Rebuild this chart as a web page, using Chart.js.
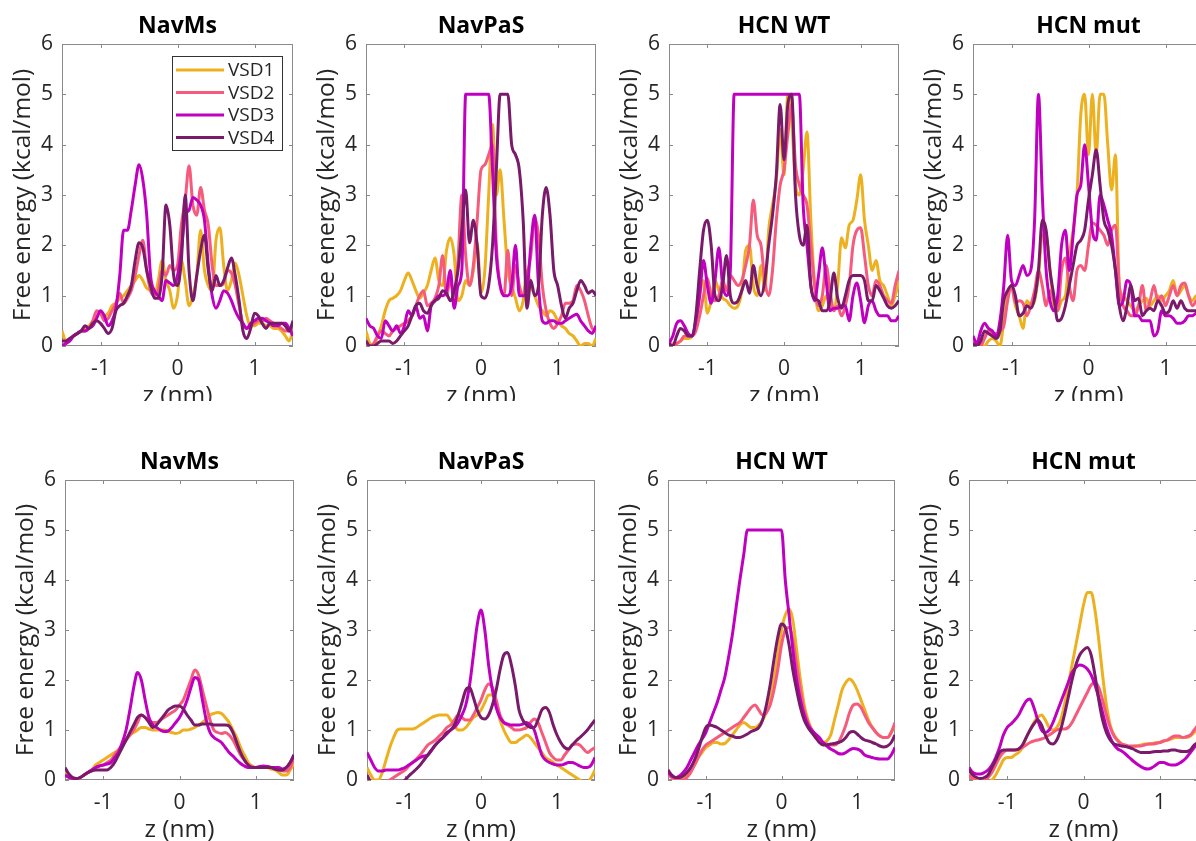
<!DOCTYPE html>
<html>
<head>
<meta charset="utf-8">
<script src="https://cdn.jsdelivr.net/npm/chart.js@4.4.1/dist/chart.umd.min.js"></script>
<style>
  body { margin: 0; background: #fff; width: 1196px; height: 841px; overflow: hidden; position: relative; }
  .panel { position: absolute; overflow: hidden; }
</style>
</head>
<body>
<script>
// z positions shared by every profile (nm)
const z = [-1.5,-1.45,-1.4,-1.35,-1.3,-1.25,-1.2,-1.15,-1.1,-1.05,
  -1,-0.95,-0.9,-0.85,-0.8,-0.75,-0.7,-0.65,-0.6,-0.55,
  -0.5,-0.45,-0.4,-0.35,-0.3,-0.25,-0.2,-0.15,-0.1,-0.05,
  0,0.05,0.1,0.15,0.2,0.25,0.3,0.35,0.4,0.45,
  0.5,0.55,0.6,0.65,0.7,0.75,0.8,0.85,0.9,0.95,
  1,1.05,1.1,1.15,1.2,1.25,1.3,1.35,1.4,1.45,1.5];

const vsdNames = ["VSD1", "VSD2", "VSD3", "VSD4"];
const vsdColors = ["#EDB120", "#F65A7C", "#C000C0", "#7A1A6A"];
const panelTitles = ["NavMs", "NavPaS", "HCN WT", "HCN mut"];
const xTickValues = [-1, 0, 1];
const yTickValues = [0, 1, 2, 3, 4, 5, 6];

// ---- top row: free energy profiles (kcal/mol) ----
const navMsTop1 = [0.30,0.10,0.15,0.20,0.25,0.30,0.35,0.40,0.50,0.60,
  0.65,0.60,0.65,0.80,0.85,0.95,1.00,1.10,1.20,1.30,
  1.40,1.30,1.15,1.10,1.00,1.30,1.70,1.30,1.10,0.75,
  1.00,1.70,1.30,0.80,1.00,1.40,2.30,1.50,1.20,1.10,
  2.10,2.35,1.60,1.10,1.30,1.65,1.40,1.00,0.60,0.40,
  0.40,0.45,0.45,0.40,0.40,0.35,0.35,0.30,0.20,0.10,0.30];
const navMsTop2 = [0.00,0.05,0.10,0.20,0.25,0.30,0.30,0.35,0.50,0.70,
  0.65,0.50,0.55,0.70,0.85,1.05,0.85,0.95,1.10,1.40,
  1.80,2.10,1.50,1.10,1.00,1.10,1.50,1.40,1.60,1.50,
  1.60,2.40,2.90,3.58,2.80,2.60,3.15,2.70,2.40,1.60,
  1.20,1.20,1.25,1.50,1.45,1.20,0.80,0.45,0.35,0.40,
  0.45,0.50,0.50,0.55,0.50,0.45,0.40,0.35,0.30,0.30,0.30];
const navMsTop3 = [0.00,0.05,0.10,0.20,0.25,0.30,0.30,0.35,0.40,0.55,
  0.70,0.60,0.40,0.50,0.75,1.40,2.30,2.30,2.70,3.20,
  3.60,3.30,2.60,1.40,1.10,1.00,0.90,1.30,1.25,1.20,
  1.40,1.90,2.60,2.70,2.95,2.90,2.80,2.50,1.60,1.00,
  0.75,0.90,1.10,1.05,0.90,0.70,0.55,0.45,0.35,0.45,
  0.50,0.55,0.55,0.50,0.45,0.40,0.40,0.45,0.45,0.35,0.20];
const navMsTop4 = [0.10,0.10,0.15,0.20,0.25,0.30,0.40,0.35,0.45,0.50,
  0.45,0.35,0.25,0.35,0.70,0.80,0.85,1.00,1.20,1.70,
  2.05,1.95,1.50,1.20,0.95,0.95,1.40,2.80,2.40,1.40,
  1.20,1.70,3.00,1.50,0.90,1.40,1.90,2.20,1.50,1.10,
  1.40,1.20,1.30,1.55,1.75,1.40,0.90,0.30,0.15,0.35,
  0.65,0.60,0.45,0.35,0.45,0.45,0.45,0.45,0.40,0.30,0.50];

const navPaSTop1 = [0.30,0.05,0.00,0.20,0.40,0.70,0.90,0.95,1.00,1.10,
  1.30,1.45,1.30,1.10,0.95,1.05,1.20,1.50,1.75,1.30,
  1.20,1.90,2.15,1.80,0.90,1.00,1.30,1.20,1.50,2.05,
  1.05,1.50,3.00,4.40,3.00,3.50,2.50,1.50,1.20,0.95,
  0.70,0.90,1.50,1.20,1.00,0.80,0.70,0.60,0.70,0.65,
  0.50,0.40,0.35,0.25,0.20,0.10,0.00,0.05,0.05,0.00,0.15];
const navPaSTop2 = [0.00,0.00,0.05,0.20,0.30,0.25,0.20,0.30,0.35,0.40,
  0.45,0.50,0.60,0.80,1.00,1.10,0.80,0.85,0.95,1.20,
  1.80,1.00,1.30,1.00,1.70,3.00,1.80,1.20,1.60,2.50,
  3.50,3.60,3.80,4.00,2.00,1.20,1.00,1.90,1.00,1.60,
  1.20,1.00,1.40,1.80,2.55,2.20,1.20,0.70,0.45,0.35,
  0.45,0.60,0.85,0.85,0.90,1.20,1.10,0.90,0.60,0.35,0.30];
const navPaSTop3 = [0.55,0.40,0.35,0.20,0.15,0.50,0.40,0.30,0.40,0.25,
  0.40,0.70,0.60,0.80,0.55,0.60,0.30,0.80,0.90,1.00,
  1.00,1.10,1.50,0.75,1.20,1.50,5.00,5.00,5.00,5.00,
  5.00,5.00,5.00,3.50,1.80,1.20,1.00,1.00,1.20,2.00,
  1.00,1.00,1.10,2.00,2.60,1.20,0.50,0.45,0.50,0.50,
  0.45,0.45,0.50,0.55,0.60,0.63,0.50,0.40,0.30,0.25,0.40];
const navPaSTop4 = [0.10,0.00,0.00,0.05,0.10,0.10,0.10,0.05,0.10,0.20,
  0.30,0.40,0.60,0.80,0.85,0.70,0.65,0.80,0.90,0.95,
  1.10,1.05,0.90,1.10,1.50,2.30,3.10,2.05,2.50,2.00,
  1.00,0.95,1.20,2.00,3.50,5.00,5.00,5.00,4.00,3.80,
  3.50,2.50,0.75,1.30,1.00,1.20,2.60,3.15,2.60,1.50,
  1.20,0.80,0.55,0.75,0.85,1.10,1.30,1.20,1.05,1.10,1.00];

const hcnWtTop1 = [0.00,0.05,0.05,0.10,0.15,0.15,0.20,0.40,1.00,1.30,
  0.65,0.90,1.30,1.10,0.95,0.90,0.80,0.75,0.80,1.10,
  1.90,2.00,1.20,1.00,1.60,1.10,2.30,2.80,3.30,4.30,
  3.40,5.00,4.50,3.20,3.00,3.50,4.25,2.50,1.20,0.70,
  0.80,1.00,0.80,0.75,1.20,2.15,1.95,2.40,2.50,2.90,
  3.40,2.50,2.00,1.50,1.70,1.30,1.20,1.00,0.80,1.00,1.30];
const hcnWtTop2 = [0.05,0.00,0.05,0.10,0.20,0.20,0.20,0.30,0.60,1.00,
  1.35,1.00,0.90,1.00,1.30,1.10,1.40,1.30,1.20,1.30,
  1.60,2.00,2.90,2.20,2.00,1.30,1.00,1.50,2.50,3.20,
  3.50,4.20,4.80,3.60,3.20,3.00,2.80,2.00,1.20,0.80,
  1.00,1.60,1.10,0.70,0.80,0.60,0.80,1.20,2.00,2.30,
  2.35,1.80,1.20,1.00,1.30,1.20,1.00,0.90,0.85,1.20,1.50];
const hcnWtTop3 = [0.05,0.20,0.45,0.50,0.40,0.25,0.20,0.50,1.00,1.70,
  1.20,0.85,1.30,1.95,1.20,1.00,1.50,5.00,5.00,5.00,
  5.00,5.00,5.00,5.00,5.00,5.00,5.00,5.00,5.00,5.00,
  5.00,5.00,5.00,5.00,5.00,2.80,2.00,1.20,0.90,1.40,
  1.95,1.30,0.70,0.75,0.75,0.80,0.80,0.50,1.00,1.25,
  0.90,0.46,0.80,0.90,0.70,0.60,0.60,0.60,0.50,0.50,0.60];
const hcnWtTop4 = [0.05,0.00,0.20,0.35,0.30,0.20,0.20,0.60,1.50,2.30,
  2.50,2.00,1.00,0.90,1.20,1.80,1.00,0.85,0.90,1.10,
  1.30,1.05,1.60,1.20,1.00,1.30,2.00,2.60,3.40,4.80,
  3.70,4.80,5.00,3.00,2.20,2.00,2.40,1.20,0.95,0.90,
  0.70,0.70,0.90,1.45,0.95,0.75,1.00,1.30,1.40,1.40,
  1.40,1.30,0.90,0.90,1.20,1.10,0.95,0.80,0.75,0.80,0.90];

const hcnMutTop1 = [0.15,0.05,0.00,0.00,0.10,0.15,0.10,0.00,0.50,1.00,
  1.20,0.80,0.60,0.35,0.90,0.80,0.90,1.40,2.20,2.20,
  1.50,0.80,0.70,0.90,1.00,1.80,2.30,3.00,4.60,5.00,
  3.80,5.00,3.80,5.00,5.00,4.00,3.10,3.80,1.20,1.00,
  0.90,0.80,0.70,0.80,0.90,0.95,0.80,0.90,1.00,0.90,
  1.00,1.10,1.30,1.00,1.10,1.20,1.00,0.90,1.00,1.00,1.00];
const hcnMutTop2 = [0.15,0.05,0.00,0.15,0.30,0.25,0.25,0.30,0.40,0.90,
  1.20,0.85,0.90,0.85,0.60,0.80,1.10,1.50,1.20,0.80,
  1.10,0.90,0.70,1.50,1.75,1.20,0.90,1.50,1.60,1.50,
  2.00,2.45,2.40,2.30,2.20,2.00,2.30,2.40,1.20,0.80,
  0.70,0.60,0.60,0.80,1.20,0.70,0.90,1.20,0.90,1.00,
  0.80,1.00,1.20,1.00,1.20,1.25,1.00,0.80,0.90,1.00,1.00];
const hcnMutTop3 = [0.20,0.05,0.30,0.45,0.35,0.30,0.20,0.50,1.20,2.20,
  1.30,1.20,1.40,1.60,1.40,1.50,2.50,5.00,3.00,1.50,
  0.90,0.70,1.00,2.00,2.30,1.50,2.20,3.00,3.20,4.00,
  3.20,2.30,2.10,3.00,2.80,2.50,2.20,1.50,0.80,0.90,
  1.30,1.20,0.60,0.60,0.50,0.50,0.50,0.20,0.30,0.70,
  0.60,0.60,0.55,0.45,0.45,0.50,0.60,0.60,0.65,0.65,0.65];
const hcnMutTop4 = [0.05,0.00,0.10,0.30,0.25,0.20,0.15,0.30,0.90,1.10,
  1.20,1.00,0.60,0.65,0.80,0.75,0.95,1.50,2.50,2.30,
  1.50,1.00,0.50,0.55,0.80,1.20,1.60,2.00,2.10,2.30,
  2.90,3.40,3.90,3.20,2.50,2.30,2.00,1.50,0.80,0.50,
  0.80,1.20,0.90,0.95,0.60,0.70,0.75,0.70,0.90,0.80,
  0.65,0.70,0.90,0.75,0.90,0.75,0.70,0.70,0.70,0.70,0.70];

// ---- bottom row: smoothed profiles (kcal/mol) ----
const navMsBot1 = [0.15,0.08,0.05,0.03,0.05,0.10,0.15,0.20,0.30,0.35,
  0.40,0.45,0.50,0.55,0.60,0.70,0.80,0.90,0.95,1.00,
  1.05,1.05,1.02,1.00,1.00,1.00,1.00,0.97,0.95,0.93,
  0.95,1.00,1.00,1.02,1.05,1.10,1.15,1.22,1.30,1.33,
  1.35,1.33,1.25,1.15,1.00,0.85,0.65,0.50,0.35,0.28,
  0.25,0.25,0.25,0.25,0.22,0.20,0.15,0.10,0.10,0.20,0.35];
const navMsBot2 = [0.10,0.05,0.03,0.03,0.05,0.10,0.15,0.20,0.25,0.28,
  0.30,0.35,0.40,0.50,0.60,0.70,0.80,0.90,1.00,1.15,
  1.30,1.25,1.20,1.15,1.15,1.20,1.25,1.30,1.35,1.40,
  1.50,1.60,1.80,2.00,2.20,2.10,1.80,1.50,1.20,1.00,
  0.95,0.93,0.95,0.90,0.80,0.65,0.50,0.40,0.30,0.27,
  0.25,0.25,0.27,0.27,0.25,0.22,0.20,0.18,0.18,0.25,0.45];
const navMsBot3 = [0.10,0.05,0.03,0.03,0.05,0.10,0.15,0.20,0.25,0.28,
  0.30,0.32,0.35,0.45,0.55,0.75,1.00,1.40,1.85,2.15,
  2.00,1.60,1.25,1.10,1.05,1.00,0.97,0.98,1.05,1.15,
  1.25,1.40,1.60,1.85,2.05,2.00,1.60,1.20,0.95,0.85,
  0.80,0.75,0.65,0.55,0.48,0.40,0.33,0.28,0.25,0.25,
  0.25,0.27,0.28,0.27,0.25,0.25,0.25,0.22,0.25,0.35,0.50];
const navMsBot4 = [0.25,0.12,0.05,0.03,0.05,0.10,0.15,0.18,0.20,0.20,
  0.20,0.20,0.25,0.35,0.50,0.65,0.80,0.95,1.10,1.25,
  1.30,1.25,1.15,1.05,1.10,1.20,1.30,1.40,1.45,1.48,
  1.48,1.42,1.30,1.20,1.10,1.10,1.12,1.12,1.12,1.10,
  1.10,1.10,1.10,1.08,0.95,0.75,0.55,0.40,0.30,0.25,
  0.25,0.25,0.25,0.25,0.25,0.22,0.20,0.20,0.25,0.35,0.50];

const navPaSBot1 = [0.25,0.10,0.00,0.00,0.15,0.40,0.65,0.85,1.00,1.02,
  1.02,1.02,1.02,1.05,1.10,1.15,1.20,1.25,1.28,1.30,
  1.30,1.30,1.20,1.10,1.00,1.00,1.05,1.15,1.25,1.30,
  1.40,1.55,1.70,1.70,1.50,1.20,1.00,0.85,0.75,0.75,
  0.80,0.85,0.90,0.85,0.75,0.65,0.55,0.45,0.40,0.35,
  0.30,0.25,0.20,0.15,0.10,0.05,0.00,-0.05,-0.05,0.05,0.20];
const navPaSBot2 = [-0.30,-0.25,-0.20,-0.15,-0.10,-0.05,0.00,0.05,0.10,0.15,
  0.20,0.28,0.35,0.42,0.50,0.60,0.70,0.75,0.80,0.88,
  0.95,1.05,1.10,1.20,1.30,1.25,1.20,1.20,1.30,1.45,
  1.60,1.80,1.92,1.85,1.60,1.30,1.15,1.10,1.05,1.00,
  1.00,1.02,1.05,1.15,1.22,1.15,0.95,0.75,0.55,0.45,
  0.40,0.40,0.50,0.60,0.70,0.72,0.70,0.62,0.55,0.60,0.65];
const navPaSBot3 = [0.55,0.40,0.25,0.18,0.18,0.20,0.20,0.20,0.20,0.22,
  0.25,0.30,0.35,0.40,0.45,0.48,0.50,0.60,0.70,0.78,
  0.85,0.92,1.00,1.05,1.15,1.30,1.50,1.90,2.50,3.10,
  3.40,3.00,2.30,1.80,1.45,1.25,1.15,1.12,1.10,1.10,
  1.10,1.12,1.15,1.10,1.00,0.75,0.50,0.40,0.35,0.32,
  0.30,0.30,0.32,0.35,0.35,0.32,0.28,0.25,0.25,0.30,0.45];
const navPaSBot4 = [0.10,-0.05,-0.20,-0.30,-0.35,-0.35,-0.30,-0.25,-0.15,-0.07,
  0.00,0.08,0.15,0.22,0.30,0.40,0.50,0.60,0.70,0.78,
  0.85,0.95,1.00,1.10,1.30,1.55,1.80,1.85,1.65,1.40,
  1.25,1.22,1.30,1.50,1.80,2.20,2.50,2.55,2.30,1.90,
  1.40,1.20,1.10,1.05,1.05,1.20,1.40,1.45,1.35,1.10,
  0.90,0.75,0.65,0.62,0.70,0.78,0.85,0.92,1.00,1.10,1.20];

const hcnWtBot1 = [0.10,0.05,0.00,0.00,0.05,0.10,0.20,0.30,0.45,0.55,
  0.65,0.70,0.75,0.75,0.72,0.73,0.80,0.90,1.00,1.10,
  1.15,1.10,1.05,1.05,1.10,1.20,1.35,1.60,2.00,2.50,
  3.00,3.30,3.42,3.20,2.60,2.00,1.50,1.20,1.00,0.85,
  0.78,0.75,0.78,0.90,1.20,1.50,1.80,1.95,2.02,1.95,
  1.80,1.60,1.40,1.20,1.05,0.95,0.88,0.85,0.85,0.95,1.10];
const hcnWtBot2 = [0.10,0.05,0.02,0.00,0.00,0.05,0.15,0.30,0.45,0.60,
  0.70,0.75,0.80,0.85,0.90,0.95,1.00,1.05,1.10,1.15,
  1.25,1.35,1.45,1.50,1.40,1.30,1.35,1.50,1.80,2.20,
  2.70,3.00,3.05,2.80,2.30,1.80,1.40,1.15,1.00,0.90,
  0.80,0.75,0.72,0.70,0.70,0.75,0.90,1.10,1.35,1.50,
  1.52,1.45,1.30,1.15,1.05,0.95,0.88,0.85,0.85,0.95,1.15];
const hcnWtBot3 = [0.15,0.08,0.05,0.08,0.15,0.25,0.40,0.55,0.70,0.82,
  0.95,1.15,1.35,1.55,1.80,2.05,2.45,2.90,3.45,4.00,
  4.50,5.00,5.00,5.00,5.00,5.00,5.00,5.00,5.00,5.00,
  5.00,4.00,3.30,2.60,2.00,1.60,1.30,1.10,1.00,0.92,
  0.85,0.75,0.68,0.62,0.58,0.53,0.52,0.55,0.60,0.63,
  0.62,0.58,0.50,0.47,0.45,0.43,0.42,0.42,0.42,0.50,0.65];
const hcnWtBot4 = [0.20,0.10,0.05,0.05,0.08,0.15,0.25,0.40,0.60,0.85,
  1.05,1.10,1.08,1.05,1.00,0.95,0.90,0.88,0.85,0.85,
  0.88,0.92,0.97,1.00,1.05,1.20,1.50,1.90,2.40,2.85,
  3.12,3.05,2.70,2.20,1.80,1.45,1.20,1.05,0.95,0.85,
  0.75,0.70,0.70,0.72,0.73,0.75,0.78,0.85,0.95,0.97,
  0.92,0.85,0.80,0.78,0.75,0.72,0.68,0.66,0.68,0.75,0.90];

const hcnMutBot1 = [0.15,0.05,0.00,-0.05,-0.10,-0.05,0.00,0.10,0.25,0.40,
  0.45,0.45,0.50,0.55,0.65,0.85,1.00,1.15,1.25,1.30,
  1.20,1.05,1.00,1.05,1.20,1.50,1.90,2.30,2.70,3.10,
  3.50,3.75,3.75,3.40,2.80,2.10,1.50,1.10,0.90,0.80,
  0.72,0.68,0.67,0.67,0.68,0.70,0.72,0.72,0.73,0.75,
  0.75,0.78,0.80,0.82,0.85,0.85,0.85,0.85,0.88,0.95,1.10];
const hcnMutBot2 = [0.10,0.02,-0.02,-0.05,-0.02,0.05,0.15,0.30,0.45,0.55,
  0.60,0.60,0.60,0.62,0.65,0.70,0.75,0.78,0.80,0.82,
  0.85,0.90,0.95,1.00,1.02,1.02,1.05,1.15,1.30,1.45,
  1.60,1.75,1.90,1.95,1.85,1.60,1.30,1.05,0.88,0.78,
  0.72,0.70,0.68,0.68,0.68,0.68,0.70,0.72,0.72,0.73,
  0.75,0.78,0.80,0.85,0.88,0.88,0.85,0.87,0.90,1.00,1.10];
const hcnMutBot3 = [0.25,0.15,0.12,0.12,0.15,0.20,0.30,0.45,0.65,0.90,
  1.05,1.12,1.20,1.30,1.45,1.58,1.62,1.45,1.20,1.00,
  0.95,1.00,1.15,1.35,1.55,1.75,1.95,2.15,2.25,2.30,
  2.28,2.22,2.10,1.90,1.65,1.35,1.05,0.85,0.70,0.62,
  0.58,0.52,0.45,0.38,0.32,0.27,0.23,0.22,0.25,0.30,
  0.35,0.35,0.32,0.30,0.30,0.33,0.38,0.45,0.55,0.65,0.75];
const hcnMutBot4 = [0.20,0.10,0.05,0.03,0.05,0.10,0.25,0.40,0.55,0.60,
  0.60,0.60,0.60,0.62,0.70,0.85,1.00,1.12,1.20,1.10,
  0.90,0.75,0.72,0.80,1.00,1.30,1.65,2.00,2.30,2.50,
  2.60,2.65,2.50,2.10,1.60,1.20,0.95,0.80,0.72,0.70,
  0.68,0.67,0.65,0.62,0.58,0.55,0.55,0.55,0.56,0.57,
  0.57,0.58,0.58,0.60,0.60,0.58,0.57,0.57,0.60,0.70,0.75];

const topSeries = [
  [navMsTop1, navMsTop2, navMsTop3, navMsTop4],
  [navPaSTop1, navPaSTop2, navPaSTop3, navPaSTop4],
  [hcnWtTop1, hcnWtTop2, hcnWtTop3, hcnWtTop4],
  [hcnMutTop1, hcnMutTop2, hcnMutTop3, hcnMutTop4]
];
const bottomSeries = [
  [navMsBot1, navMsBot2, navMsBot3, navMsBot4],
  [navPaSBot1, navPaSBot2, navPaSBot3, navPaSBot4],
  [hcnWtBot1, hcnWtBot2, hcnWtBot3, hcnWtBot4],
  [hcnMutBot1, hcnMutBot2, hcnMutBot3, hcnMutBot4]
];

// ---- layout (page pixels) ----
const yAxisWidth = 62;
const xAxisHeight = 65;
const rows = [
  { top: 0, clip: 401, plotTop: 44, plotBottom: 346, left: [62, 366, 669, 973], width: [231, 230, 230, 231] },
  { top: 420, clip: 421, plotTop: 480, plotBottom: 780, left: [65, 367, 668, 969], width: [229, 228, 227, 229] }
];

const FONT = "'Open Sans', 'Liberation Sans', sans-serif";
const TEXT = "#262626";
Chart.defaults.font.family = FONT;
Chart.defaults.color = TEXT;

// axes box with inward ticks on all four sides
const boxPlugin = {
  id: "box",
  beforeDatasetsDraw(chart) {
    const { ctx, chartArea: a, scales } = chart;
    ctx.save();
    ctx.strokeStyle = "#8a8a8a";
    ctx.lineWidth = 1;
    ctx.strokeRect(a.left + 0.5, a.top + 0.5, a.width - 1, a.height - 1);
    ctx.beginPath();
    const tl = 4;
    xTickValues.forEach(v => {
      const x = Math.round(scales.x.getPixelForValue(v)) + 0.5;
      ctx.moveTo(x, a.bottom); ctx.lineTo(x, a.bottom - tl);
      ctx.moveTo(x, a.top); ctx.lineTo(x, a.top + tl);
    });
    yTickValues.forEach(v => {
      const y = Math.round(scales.y.getPixelForValue(v)) + 0.5;
      ctx.moveTo(a.left, y); ctx.lineTo(a.left + tl, y);
      ctx.moveTo(a.right, y); ctx.lineTo(a.right - tl, y);
    });
    ctx.stroke();
    ctx.restore();
  }
};

// panel title centred over the plot area
const titlePlugin = {
  id: "panelTitle",
  afterDraw(chart, args, opts) {
    const { ctx, chartArea: a } = chart;
    ctx.save();
    ctx.font = "bold 23px " + FONT;
    ctx.fillStyle = "#000";
    ctx.textAlign = "center";
    ctx.textBaseline = "middle";
    ctx.fillText(opts.text, (a.left + a.right) / 2, a.top - 18);
    ctx.restore();
  }
};

// legend box inside the first panel
const legendPlugin = {
  id: "insideLegend",
  afterDatasetsDraw(chart, args, opts) {
    if (!opts.show) return;
    const { ctx, chartArea: a } = chart;
    const bx = a.left + 110, by = a.top + 12, bw = 110, bh = 94;
    ctx.save();
    ctx.fillStyle = "#fff";
    ctx.fillRect(bx, by, bw, bh);
    ctx.strokeStyle = "#333";
    ctx.lineWidth = 1;
    ctx.strokeRect(bx + 0.5, by + 0.5, bw, bh);
    ctx.font = "19px " + FONT;
    ctx.textBaseline = "middle";
    ctx.textAlign = "left";
    chart.data.datasets.forEach((ds, i) => {
      const y = by + 14 + i * 22.5;
      ctx.strokeStyle = ds.borderColor;
      ctx.lineWidth = 3;
      ctx.beginPath();
      ctx.moveTo(bx + 4, y); ctx.lineTo(bx + 52, y);
      ctx.stroke();
      ctx.fillStyle = TEXT;
      ctx.fillText(ds.label, bx + 56, y + 1);
    });
    ctx.restore();
  }
};

function makePanel(rowIdx, col, seriesList) {
  const row = rows[rowIdx];
  const L = row.left[col], W = row.width[col];
  const cw = yAxisWidth + W + 14;
  const ch = (row.plotBottom - row.top) + xAxisHeight;
  const div = document.createElement("div");
  div.className = "panel";
  div.style.left = (L - yAxisWidth) + "px";
  div.style.top = row.top + "px";
  div.style.width = cw + "px";
  div.style.height = row.clip + "px";
  const canvas = document.createElement("canvas");
  canvas.width = cw;
  canvas.height = ch;
  canvas.style.width = cw + "px";
  canvas.style.height = ch + "px";
  div.appendChild(canvas);
  document.body.appendChild(div);

  const datasets = seriesList.map((vals, i) => ({
    label: vsdNames[i],
    data: vals.map((v, k) => ({ x: z[k], y: v })),
    borderColor: vsdColors[i],
    backgroundColor: vsdColors[i],
    borderWidth: 3,
    pointRadius: 0,
    cubicInterpolationMode: "monotone",
    order: 3 - i
  }));

  new Chart(canvas, {
    type: "line",
    data: { datasets },
    options: {
      responsive: false,
      animation: false,
      layout: { padding: { top: row.plotTop - row.top, left: 0, right: 14, bottom: 0 } },
      plugins: {
        legend: { display: false },
        tooltip: { enabled: false },
        panelTitle: { text: panelTitles[col] },
        insideLegend: { show: rowIdx === 0 && col === 0 }
      },
      scales: {
        x: {
          type: "linear", min: -1.5, max: 1.5,
          afterBuildTicks(s) { s.ticks = xTickValues.map(v => ({ value: v })); },
          ticks: { padding: 10, font: { size: 21 }, color: TEXT },
          grid: { display: false, drawTicks: false },
          border: { display: false },
          title: { display: true, text: "z (nm)", font: { size: 24.5 }, color: TEXT, padding: { top: 0, bottom: 0 } },
          afterFit(s) { s.height = xAxisHeight; }
        },
        y: {
          min: 0, max: 6,
          afterBuildTicks(s) { s.ticks = yTickValues.map(v => ({ value: v })); },
          ticks: { padding: 9, font: { size: 21 }, color: TEXT },
          grid: { display: false, drawTicks: false },
          border: { display: false },
          title: { display: true, text: "Free energy (kcal/mol)", font: { size: 24.5 }, color: TEXT, padding: { top: 8, bottom: 0 } },
          afterFit(s) { s.width = yAxisWidth; }
        }
      }
    },
    plugins: [boxPlugin, titlePlugin, legendPlugin]
  });
}

topSeries.forEach((s, col) => makePanel(0, col, s));
bottomSeries.forEach((s, col) => makePanel(1, col, s));
</script>
</body>
</html>
